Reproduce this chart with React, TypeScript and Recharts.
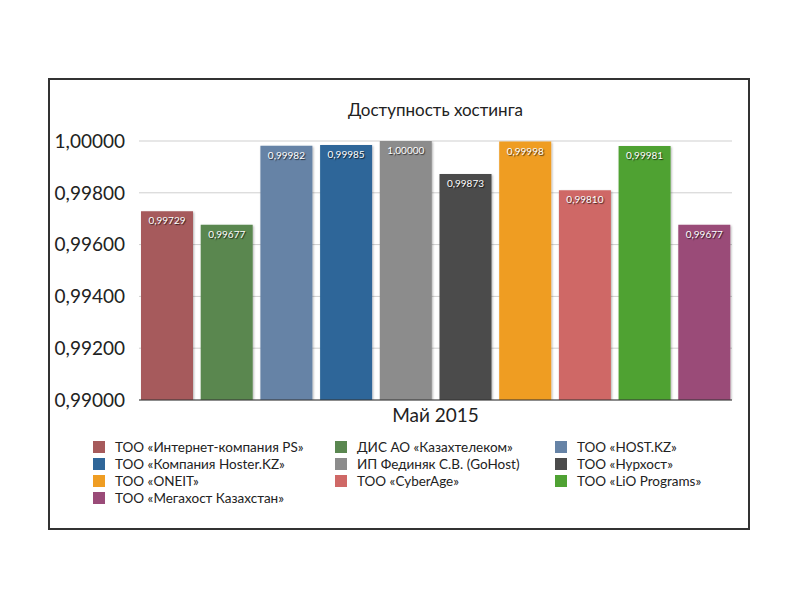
import React from 'react';
import { BarChart, Bar, XAxis, YAxis, CartesianGrid, Legend, LabelList } from 'recharts';

const period = 'Май 2015';

const providers = [
  'ТОО «Интернет-компания PS»',
  'ДИС АО «Казахтелеком»',
  'ТОО «HOST.KZ»',
  'ТОО «Компания Hoster.KZ»',
  'ИП Фединяк С.В. (GoHost)',
  'ТОО «Нурхост»',
  'ТОО «ONEIT»',
  'ТОО «CyberAge»',
  'ТОО «LiO Programs»',
  'ТОО «Мегахост Казахстан»',
];

const availability = [0.99729, 0.99677, 0.99982, 0.99985, 1.0, 0.99873, 0.99998, 0.9981, 0.99981, 0.99677];

const colors = [
  '#a65a5b', '#5a8750', '#6683a6', '#2f6699', '#8c8c8c',
  '#4b4b4b', '#ef9d23', '#cf6866', '#4fa233', '#9a4b78',
];

const yTicks = [0.99, 0.992, 0.994, 0.996, 0.998, 1.0];

const row: Record<string, string | number> = { name: period };
providers.forEach((_, i) => {
  row['s' + i] = availability[i];
});
const data = [row];

const font = 'Lato, "Open Sans", sans-serif';
const fmt = (v: number) => v.toFixed(5).replace('.', ',');

function LegendBox() {
  return (
    <div
      style={{
        display: 'grid',
        gridTemplateColumns: '242px 220px 200px',
        fontFamily: font,
        fontSize: 13.5,
        color: '#222',
      }}
    >
      {providers.map((p, i) => (
        <div key={p} style={{ display: 'flex', alignItems: 'center', height: 16.8, whiteSpace: 'nowrap' }}>
          <span style={{ width: 12, height: 12, background: colors[i], marginRight: 10, flex: 'none' }} />
          <span>{p}</span>
        </div>
      ))}
    </div>
  );
}

export default function App() {
  return (
    <div style={{ position: 'absolute', left: 0, top: 0, width: 800, height: 600, background: '#fff' }}>
      <div
        style={{
          position: 'absolute',
          left: 48,
          top: 78,
          width: 698,
          height: 448,
          border: '2px solid #333',
        }}
      />
      <div
        style={{
          position: 'absolute',
          left: 139,
          width: 593,
          top: 99,
          textAlign: 'center',
          fontFamily: font,
          fontSize: 17,
          color: '#222',
        }}
      >
        Доступность хостинга
      </div>
      <div style={{ position: 'absolute', left: 0, top: 0 }}>
        <BarChart
          width={800}
          height={600}
          data={data}
          margin={{ top: 141, right: 68, bottom: 160, left: 59 }}
          barCategoryGap={2}
          barGap={7.7}
        >
          <defs>
            <filter id="barShadow" x="-10%" y="-10%" width="130%" height="130%">
              <feDropShadow dx="1" dy="1" stdDeviation="1.2" floodColor="#000" floodOpacity="0.3" />
            </filter>
          </defs>
          <CartesianGrid vertical={false} stroke="#cfcfcf" />
          <XAxis
            dataKey="name"
            height={40}
            tickLine={false}
            tickSize={0}
            tickMargin={9}
            axisLine={{ stroke: '#333', strokeWidth: 1.2 }}
            tick={{ fontFamily: font, fontSize: 19, fill: '#222' }}
          />
          <YAxis
            width={80}
            domain={[0.99, 1.0]}
            ticks={yTicks}
            allowDataOverflow
            axisLine={false}
            tickLine={false}
            tickSize={0}
            tickMargin={14}
            tickFormatter={fmt}
            tick={{ fontFamily: font, fontSize: 19, fill: '#222' }}
          />
          <Legend
            layout="horizontal"
            verticalAlign="middle"
            align="center"
            wrapperStyle={{ left: 93, top: 439, width: 680 }}
            content={() => <LegendBox />}
          />
          {providers.map((p, i) => (
            <Bar
              key={p}
              dataKey={'s' + i}
              name={p}
              fill={colors[i]}
              filter="url(#barShadow)"
              isAnimationActive={false}
            >
              <LabelList
                dataKey={'s' + i}
                position="insideTop"
                offset={6}
                formatter={(v: any) => fmt(Number(v))}
                style={{
                  fontFamily: font,
                  fontSize: 10,
                  fill: '#fff',
                  textShadow: '1px 1px 1px rgba(0,0,0,0.7)',
                }}
              />
            </Bar>
          ))}
        </BarChart>
      </div>
    </div>
  );
}
